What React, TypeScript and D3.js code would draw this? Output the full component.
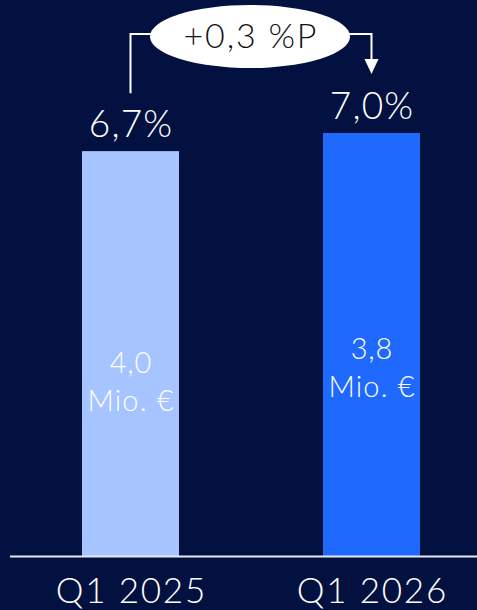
import React from "react";
import * as d3 from "d3";

const categories = ["Q1 2025", "Q1 2026"];
const marginPct = [6.7, 7.0];
const marginLabels = ["6,7%", "7,0%"];
const revenueLabels = ["4,0", "3,8"];
const unitLabel = "Mio. €";
const deltaLabel = "+0,3 %P";
const barColors = ["#A6C4FF", "#1F69FF"];

const W = 477;
const H = 610;
const FONT = "Lato, 'Noto Sans', sans-serif";

export default function App() {
  const baseY = 556;
  const xs = d3.scalePoint<string>().domain(categories).range([130.5, 371.5]);
  const bw = 97;
  const y = d3.scaleLinear().domain([0, 7.0]).range([baseY, 133]);

  const c0 = xs(categories[0])!;
  const c1 = xs(categories[1])!;
  const ex = 250, ey = 36.5, rx = 100, ry = 31.5;
  const lineY = 34;
  const tipY = 74;

  const txt = (size: number, ls: number) => ({
    fontFamily: FONT,
    fontWeight: 300,
    fontSize: size,
    letterSpacing: ls,
    dx: ls / 2,
  });

  return (
    <div style={{ position: "fixed", left: 0, top: 0, width: W, height: H, background: "#02113F" }}>
      <svg width={W} height={H} style={{ display: "block" }}>
        <rect x={0} y={0} width={W} height={H} fill="#02113F" />
        {categories.map((c, i) => {
          const cx = xs(c)!;
          const top = y(marginPct[i]);
          const mid = (top + baseY) / 2;
          const off = i === 0 ? 28 : 23;
          return (
            <g key={c}>
              <rect x={cx - bw / 2} y={top} width={bw} height={baseY - top} fill={barColors[i]} />
              <text x={cx} y={top - 14} textAnchor="middle" fill="#fff" {...txt(37, 1.2)}>
                {marginLabels[i]}
              </text>
              <text x={cx} y={mid + off - 9} textAnchor="middle" fill="#fff" {...txt(29, 0.8)}>
                {revenueLabels[i]}
              </text>
              <text x={cx} y={mid + off + 29} textAnchor="middle" fill="#fff" {...txt(29, 1.2)}>
                {unitLabel}
              </text>
              <text x={cx} y={603} textAnchor="middle" fill="#fff" {...txt(35, 1.8)}>
                {c}
              </text>
            </g>
          );
        })}
        <line x1={10} x2={W} y1={baseY + 0.5} y2={baseY + 0.5} stroke="#E6E9F2" strokeWidth={2} />
        <path
          d={`M${c0},${y(marginPct[0]) - 58} V${lineY} H${ex - rx + 2}`}
          fill="none"
          stroke="#fff"
          strokeWidth={2}
        />
        <path d={`M${ex + rx - 2},${lineY} H${c1} V${tipY - 14}`} fill="none" stroke="#fff" strokeWidth={2} />
        <path d={`M${c1 - 7},${tipY - 15} L${c1 + 7},${tipY - 15} L${c1},${tipY} Z`} fill="#fff" />
        <ellipse cx={ex} cy={ey} rx={rx} ry={ry} fill="#fff" />
        <text x={ex} y={48} textAnchor="middle" fill="#111" {...txt(34, 1.8)}>
          {deltaLabel}
        </text>
      </svg>
    </div>
  );
}
